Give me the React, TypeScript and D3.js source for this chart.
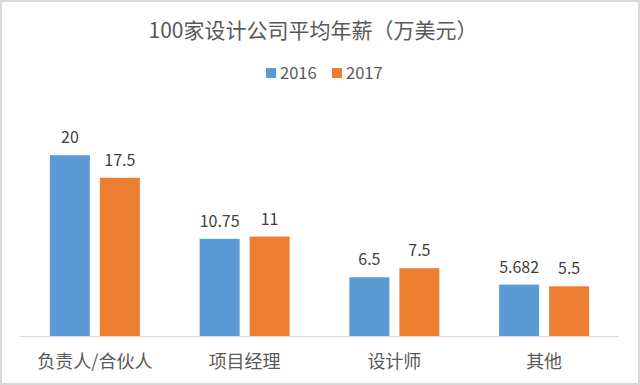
import React from 'react';
import * as d3 from 'd3';

// chart data
const categories = ['负责人/合伙人', '项目经理', '设计师', '其他'];
const seriesNames = ['2016', '2017'];
const values2016 = [20, 10.75, 6.5, 5.682];
const values2017 = [17.5, 11, 7.5, 5.5];
const seriesColors = ['#5B9BD5', '#ED7D31'];

const W = 640;
const H = 385;
const font = '"Noto Sans CJK SC", "Noto Sans", sans-serif';

const App = () => {
  const x = d3.scaleBand().domain(categories).range([20, 619]);
  const xInner = d3.scaleBand().domain(seriesNames).range([-45, 45]).paddingInner(0.2);
  const y = d3.scaleLinear().domain([0, 25]).range([336, 110]);

  const rows = categories.map((c, i) => ({
    cat: c,
    vals: [values2016[i], values2017[i]],
  }));

  return (
    <div style={{ position: 'absolute', left: 0, top: 0 }}>
      <svg width={W} height={H} style={{ display: 'block', fontFamily: font }}>
        <rect x={1} y={1} width={W - 2} height={H - 2} fill="#fff" stroke="#d9d9d9" strokeWidth={2} />

        <text x={313} y={38} textAnchor="middle" fontSize={21} fill="#595959">
          100家设计公司平均年薪（万美元）
        </text>

        {/* legend */}
        <g>
          <rect x={266} y={68} width={10} height={10} fill={seriesColors[0]} />
          <text x={280} y={79} fontSize={16.5} fill="#595959">{seriesNames[0]}</text>
          <rect x={332} y={68} width={10} height={10} fill={seriesColors[1]} />
          <text x={346} y={79} fontSize={16.5} fill="#595959">{seriesNames[1]}</text>
        </g>

        {/* bars */}
        {rows.map((r) => {
          const cx = (x(r.cat) as number) + x.bandwidth() / 2;
          return (
            <g key={r.cat} transform={`translate(${cx},0)`}>
              {r.vals.map((v, j) => {
                const bx = xInner(seriesNames[j]) as number;
                return (
                  <g key={j}>
                    <rect
                      x={bx}
                      y={y(v)}
                      width={xInner.bandwidth()}
                      height={y(0) - y(v)}
                      fill={seriesColors[j]}
                    />
                    <text
                      x={bx + xInner.bandwidth() / 2}
                      y={y(v) - 12}
                      textAnchor="middle"
                      fontSize={16}
                      fill="#404040"
                    >
                      {v}
                    </text>
                  </g>
                );
              })}
              <text x={0} y={368} textAnchor="middle" fontSize={18} fill="#595959">
                {r.cat}
              </text>
            </g>
          );
        })}

        <line x1={20} x2={619} y1={336.5} y2={336.5} stroke="#d9d9d9" strokeWidth={1} />
      </svg>
    </div>
  );
};

export default App;
